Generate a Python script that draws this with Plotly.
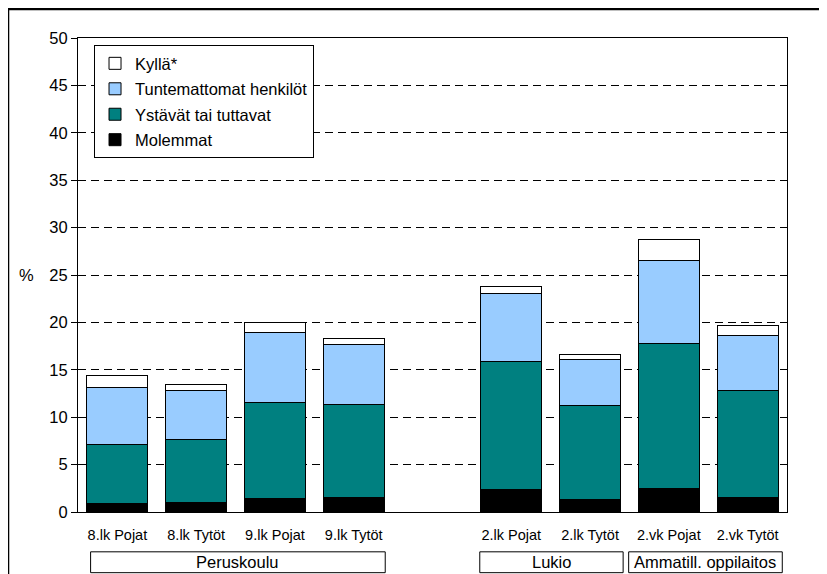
import plotly.graph_objects as go

# Luokat (tyhjä väli peruskoulun ja toisen asteen välissä)
categories = ["8.lk Pojat", "8.lk Tytöt", "9.lk Pojat", "9.lk Tytöt", " ",
              "2.lk Pojat", "2.lk Tytöt", "2.vk Pojat", "2.vk Tytöt"]

molemmat = [0.9, 1.0, 1.4, 1.5, None, 2.4, 1.3, 2.5, 1.5]
ystavat = [6.2, 6.7, 10.1, 9.8, None, 13.5, 9.9, 15.3, 11.3]
tuntemattomat = [6.0, 5.1, 7.4, 6.4, None, 7.1, 4.9, 8.7, 5.8]
kylla = [1.3, 0.7, 1.1, 0.6, None, 0.8, 0.5, 2.2, 1.1]

groups = ["Peruskoulu", "Lukio", "Ammatill. oppilaitos"]
y_ticks = [0, 5, 10, 15, 20, 25, 30, 35, 40, 45, 50]

FONT = "Liberation Sans, Arial, sans-serif"

# nimi, arvot, väri, järjestys selitteessä
series = [
    ("Molemmat", molemmat, "#000000", 4),
    ("Ystävät tai tuttavat", ystavat, "#008080", 3),
    ("Tuntemattomat henkilöt", tuntemattomat, "#99CCFF", 2),
    ("Kyllä*", kylla, "#FFFFFF", 1),
]

fig = go.Figure()
for name, vals, color, rank in series:
    fig.add_trace(go.Bar(
        name=name,
        x=categories,
        y=vals,
        legendgroup=name,
        legendrank=rank,
        marker=dict(color=color, line=dict(color="#000000", width=1)),
    ))

# sivun body-marginaali (8px) kompensoitu marginaaleissa
fig.update_layout(
    barmode="stack",
    bargap=0.225,
    width=827,
    height=574,
    margin=dict(l=70, r=48, t=30, b=70),
    paper_bgcolor="white",
    plot_bgcolor="white",
    font=dict(family=FONT, size=16, color="#000000"),
    showlegend=True,
    legend=dict(
        x=0.0226, y=0.985, xanchor="left", yanchor="top",
        traceorder="grouped",
        tracegroupgap=1,
        bgcolor="white",
        bordercolor="#000000",
        borderwidth=1,
        font=dict(family=FONT, size=16.5),
        itemwidth=30,
    ),
)

fig.update_xaxes(
    type="category",
    categoryorder="array",
    categoryarray=categories,
    range=[-0.5, 8.5],
    showline=True, linecolor="#000000", linewidth=1, mirror=True,
    showgrid=False, ticks="",
    tickfont=dict(family=FONT, size=14.5),
    ticklabelstandoff=10,
)
fig.update_yaxes(
    range=[0, 50],
    tickvals=y_ticks,
    showline=True, linecolor="#000000", linewidth=1, mirror=True,
    ticks="outside", ticklen=6, tickcolor="#000000",
    showgrid=True, gridcolor="#000000", gridwidth=1, griddash="8px,5px",
    zeroline=False,
    tickfont=dict(family=FONT, size=16.5),
)

# % -merkki y-akselille
fig.add_annotation(text="%", xref="paper", yref="y", x=-0.059, y=25,
                   xanchor="right", yanchor="middle", showarrow=False,
                   font=dict(family=FONT, size=16.5))

# ryhmälaatikot x-akselin alla
group_spans = [(-0.34, 3.40), (4.60, 6.42), (6.49, 8.44)]
for label, (x0, x1) in zip(groups, group_spans):
    fig.add_shape(type="rect", xref="x", yref="paper",
                  x0=x0, x1=x1, y0=-0.128, y1=-0.084,
                  line=dict(color="#000000", width=1), fillcolor="white")
    fig.add_annotation(text=label, xref="x", yref="paper",
                       x=(x0 + x1) / 2, y=-0.106,
                       xanchor="center", yanchor="middle", showarrow=False,
                       font=dict(family=FONT, size=16.5))

# ulkokehys
fig.add_shape(type="rect", xref="paper", yref="paper",
              x0=-0.0987, x1=1.07, y0=-0.2, y1=1.0612,
              line=dict(color="#000000", width=2.5), layer="below")

fig.write_html("out.html")
